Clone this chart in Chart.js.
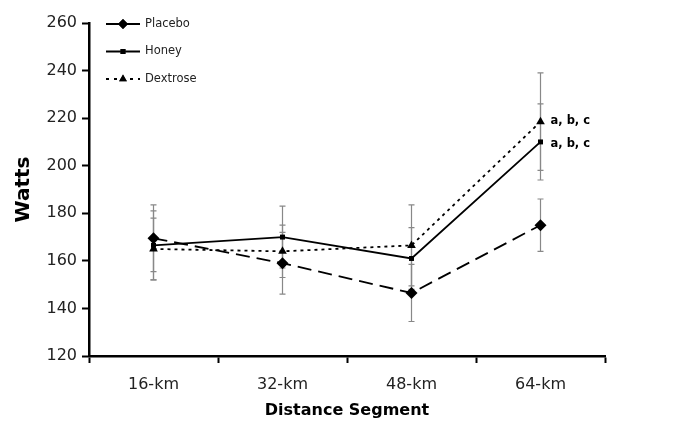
<!DOCTYPE html>
<html>
<head>
<meta charset="utf-8">
<script src="https://cdn.jsdelivr.net/npm/chart.js@4"></script>
<style>
  html, body { margin: 0; padding: 0; background: #fff; }
  #wrap { width: 680px; height: 424px; }
</style>
</head>
<body>
<div id="wrap"><canvas id="wattsChart" width="680" height="424"></canvas></div>
<script>
const segments = ['16-km', '32-km', '48-km', '64-km'];
const placebo = [169.5, 159, 146.5, 175];
const honey = [166.5, 170, 161, 210];
const dextrose = [165, 164, 166.5, 218.5];
// error bar half-widths
const placeboErr = [14, 13, 12, 11];
const honeyErr = [14.5, 13, 13, 16];
const dextroseErr = [13, 11, 17, 20.5];
const yTicks = [120, 140, 160, 180, 200, 220, 240, 260];
const sigLabel = 'a, b, c';

const FONT = 'DejaVu Sans';

const errorBars = {
    id: 'errorBars',
    beforeDatasetsDraw(chart) {
        const {ctx, scales: {x, y}} = chart;
        const sets = [[placebo, placeboErr], [honey, honeyErr], [dextrose, dextroseErr]];
        ctx.save();
        ctx.strokeStyle = '#888';
        ctx.lineWidth = 1.2;
        sets.forEach(([vals, errs]) => {
            vals.forEach((v, i) => {
                const px = x.getPixelForValue(i);
                const top = y.getPixelForValue(v + errs[i]);
                const bot = y.getPixelForValue(v - errs[i]);
                ctx.beginPath();
                ctx.moveTo(px, top); ctx.lineTo(px, bot);
                ctx.moveTo(px - 3, top); ctx.lineTo(px + 3, top);
                ctx.moveTo(px - 3, bot); ctx.lineTo(px + 3, bot);
                ctx.stroke();
            });
        });
        ctx.restore();
    }
};

const extras = {
    id: 'extras',
    afterDraw(chart) {
        const {ctx, scales: {x, y}} = chart;
        ctx.save();
        // significance labels
        ctx.font = 'bold 11.5px ' + FONT;
        ctx.fillStyle = '#000';
        ctx.textBaseline = 'middle';
        const last = segments.length - 1;
        ctx.fillText(sigLabel, x.getPixelForValue(last) + 10, y.getPixelForValue(dextrose[last]) - 1);
        ctx.fillText(sigLabel, x.getPixelForValue(last) + 10, y.getPixelForValue(honey[last]) + 2);

        // legend
        const items = [
            {label: 'Placebo', dash: [], style: 'rectRot', r: 5},
            {label: 'Honey', dash: [], style: 'rect', r: 3.5},
            {label: 'Dextrose', dash: [3, 5], style: 'triangle', r: 4.5}
        ];
        ctx.font = '11.5px ' + FONT;
        items.forEach((it, k) => {
            const ly = 24 + k * 27.5;
            ctx.strokeStyle = '#000';
            ctx.lineWidth = 1.8;
            ctx.setLineDash(it.dash);
            ctx.beginPath();
            ctx.moveTo(106, ly); ctx.lineTo(140, ly);
            ctx.stroke();
            ctx.setLineDash([]);
            Chart.helpers.drawPoint(ctx, {pointStyle: it.style, radius: it.r, borderWidth: 0}, 123, ly);
            ctx.fillStyle = '#000';
            ctx.fill();
            ctx.fillStyle = '#222';
            ctx.fillText(it.label, 145, ly);
        });
        ctx.restore();
    }
};

const ctx = document.getElementById('wattsChart').getContext('2d');
const wattsChart = new Chart(ctx, {
    type: 'line',
    data: {
        labels: segments,
        datasets: [{
            label: 'Placebo',
            data: placebo,
            borderColor: '#000',
            backgroundColor: '#000',
            borderWidth: 1.8,
            borderDash: [14, 7],
            pointStyle: 'rectRot',
            pointRadius: 6,
            pointBorderWidth: 0
        }, {
            label: 'Honey',
            data: honey,
            borderColor: '#000',
            backgroundColor: '#000',
            borderWidth: 1.8,
            pointStyle: 'rect',
            pointRadius: 3.5,
            pointBorderWidth: 0
        }, {
            label: 'Dextrose',
            data: dextrose,
            borderColor: '#000',
            backgroundColor: '#000',
            borderWidth: 1.8,
            borderDash: [3, 4],
            pointStyle: 'triangle',
            pointRadius: 5,
            pointBorderWidth: 0
        }]
    },
    options: {
        responsive: false,
        animation: false,
        layout: {padding: {top: 23, right: 75, left: 8, bottom: 0}},
        plugins: {
            legend: {display: false},
            tooltip: {enabled: false}
        },
        scales: {
            x: {
                offset: true,
                grid: {offset: true, drawOnChartArea: false, tickLength: 7, tickWidth: 2, tickColor: '#000'},
                border: {color: '#000', width: 2.5},
                ticks: {color: '#222', font: {family: FONT, size: 16}, padding: 12},
                title: {display: true, text: 'Distance Segment', color: '#000', font: {family: FONT, size: 16, weight: 'bold'}, padding: {top: 10}},
                afterFit(s) { s.height = 68; }
            },
            y: {
                min: 120,
                max: 260,
                afterBuildTicks(s) { s.ticks = yTicks.map(v => ({value: v})); },
                grid: {drawOnChartArea: false, tickLength: 7, tickWidth: 2, tickColor: '#000'},
                border: {color: '#000', width: 2.5},
                ticks: {color: '#222', font: {family: FONT, size: 16}, padding: 5},
                title: {display: true, text: 'Watts', color: '#000', font: {family: FONT, size: 20, weight: 'bold'}, padding: {bottom: 4}},
                afterFit(s) { s.width = 81; }
            }
        }
    },
    plugins: [errorBars, extras]
});
</script>
</body>
</html>
